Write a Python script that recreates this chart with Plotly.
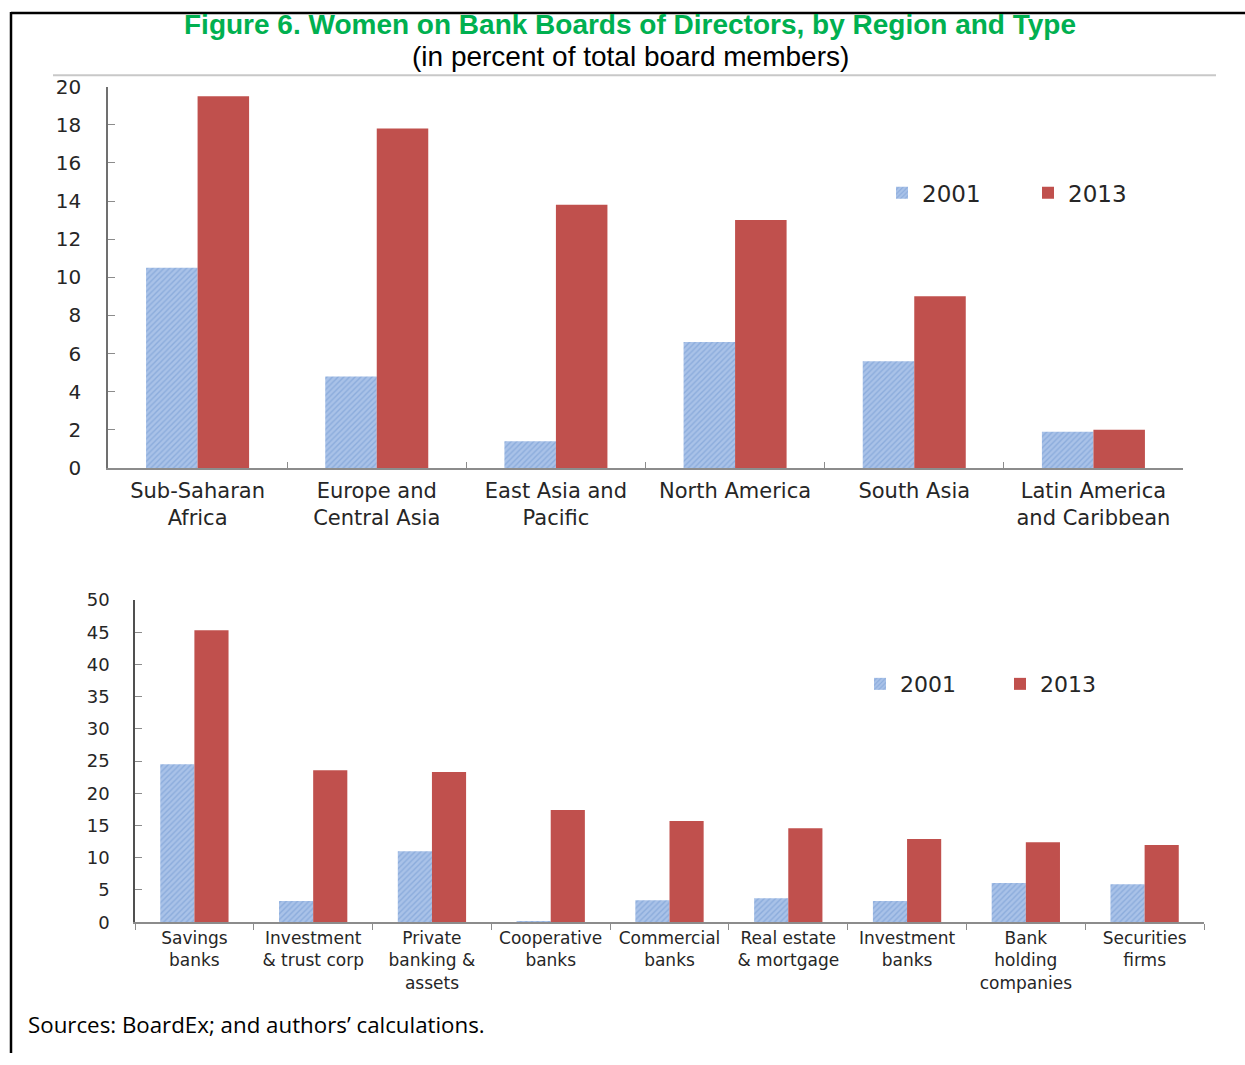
import plotly.graph_objects as go

# ---- data ----
regions = ["Sub-Saharan<br>Africa", "Europe and<br>Central Asia", "East Asia and<br>Pacific",
           "North America", "South Asia", "Latin America<br>and Caribbean"]
region_2001 = [10.5, 4.8, 1.4, 6.6, 5.6, 1.9]
region_2013 = [19.5, 17.8, 13.8, 13.0, 9.0, 2.0]

types = ["Savings<br>banks", "Investment<br>& trust corp", "Private<br>banking &<br>assets",
         "Cooperative<br>banks", "Commercial<br>banks", "Real estate<br>& mortgage",
         "Investment<br>banks", "Bank<br>holding<br>companies", "Securities<br>firms"]
type_2001 = [24.5, 3.3, 11.0, 0.1, 3.4, 3.7, 3.3, 6.1, 5.9]
type_2013 = [45.3, 23.6, 23.3, 17.4, 15.7, 14.6, 12.9, 12.4, 12.0]

top_ticks = [0, 2, 4, 6, 8, 10, 12, 14, 16, 18, 20]
bottom_ticks = [0, 5, 10, 15, 20, 25, 30, 35, 40, 45, 50]

W, H = 1245, 1065
BLUE = "#A9C2E8"
BLUE_FG = "#6E95D0"
RED = "#C0504D"
FONT = "DejaVu Sans"
TXT = "#262626"

def px_x(p):
    return p / W

def px_y(p):
    # target picture row -> paper fraction (compensates the capture offset)
    fy = (p - 12.4) / 0.9768
    fy = max(fy, 1)
    return 1 - fy / H

fig = go.Figure()

pattern = dict(shape="/", fgcolor=BLUE_FG, bgcolor=BLUE, size=4, solidity=0.35)

fig.add_trace(go.Bar(x=regions, y=region_2001, name="2001", marker=dict(color=BLUE, pattern=pattern, line_width=0),
                     xaxis="x", yaxis="y", legend="legend"))
fig.add_trace(go.Bar(x=regions, y=region_2013, name="2013", marker=dict(color=RED, line_width=0),
                     xaxis="x", yaxis="y", legend="legend"))
fig.add_trace(go.Bar(x=types, y=type_2001, name="2001", marker=dict(color=BLUE, pattern=pattern, line_width=0),
                     xaxis="x2", yaxis="y2", legend="legend2"))
fig.add_trace(go.Bar(x=types, y=type_2013, name="2013", marker=dict(color=RED, line_width=0),
                     xaxis="x2", yaxis="y2", legend="legend2"))

axis_line = "#8C8C8C"
fig.update_layout(
    width=W, height=H,
    margin=dict(l=0, r=0, t=0, b=0),
    paper_bgcolor="white", plot_bgcolor="white",
    barmode="group", bargap=0.425, bargroupgap=0,
    font=dict(family=FONT, color=TXT),
    xaxis=dict(domain=[px_x(108), px_x(1183)], anchor="y", type="category",
               showline=True, linecolor=axis_line, linewidth=1.5,
               ticks="inside", tickson="boundaries", ticklen=6, tickcolor=axis_line,
               tickfont=dict(size=21, family=FONT, color=TXT), ticklabelstandoff=3,
               showgrid=False, fixedrange=True),
    yaxis=dict(domain=[px_y(468), px_y(87)], anchor="x", range=[0, 20],
               tickvals=top_ticks, ticktext=[str(v) for v in top_ticks],
               showline=True, linecolor="#707070", linewidth=1.5,
               ticks="inside", ticklen=7, tickcolor=axis_line,
               tickfont=dict(size=20, family=FONT, color=TXT), ticklabelstandoff=21,
               showgrid=False, zeroline=False),
    xaxis2=dict(domain=[px_x(135), px_x(1204)], anchor="y2", type="category",
                showline=True, linecolor=axis_line, linewidth=1.5,
                ticks="outside", tickson="boundaries", ticklen=6, tickcolor=axis_line,
                tickfont=dict(size=17, family=FONT, color=TXT), ticklabelstandoff=0,
                showgrid=False),
    yaxis2=dict(domain=[px_y(922), px_y(600)], anchor="x2", range=[0, 50],
                tickvals=bottom_ticks, ticktext=[str(v) for v in bottom_ticks],
                showline=True, linecolor="#505050", linewidth=1.5,
                ticks="inside", ticklen=7, tickcolor=axis_line,
                tickfont=dict(size=18, family=FONT, color=TXT), ticklabelstandoff=20,
                showgrid=False, zeroline=False),
    legend=dict(orientation="h", x=px_x(882), y=px_y(193), xanchor="left", yanchor="middle",
                font=dict(size=23, family=FONT, color=TXT),
                entrywidth=101, entrywidthmode="pixels", bgcolor="rgba(0,0,0,0)"),
    legend2=dict(orientation="h", x=px_x(860), y=px_y(684), xanchor="left", yanchor="middle",
                 font=dict(size=22, family=FONT, color=TXT),
                 entrywidth=95, entrywidthmode="pixels", bgcolor="rgba(0,0,0,0)"),
    showlegend=True,
)

fig.add_annotation(x=px_x(630), y=px_y(25), xref="paper", yref="paper", showarrow=False,
                   text="<b>Figure 6. Women on Bank Boards of Directors, by Region and Type</b>",
                   font=dict(family="Liberation Sans, Arial", size=28, color="#00B050"),
                   xanchor="center", yanchor="middle")
fig.add_annotation(x=px_x(631), y=px_y(57), xref="paper", yref="paper", showarrow=False,
                   text="(in percent of total board members)",
                   font=dict(family="Liberation Sans, Arial", size=28, color="#000000"),
                   xanchor="center", yanchor="middle")
fig.add_annotation(x=px_x(26), y=px_y(1024), xref="paper", yref="paper", showarrow=False,
                   text="Sources: BoardEx; and authors\u2019 calculations.",
                   font=dict(family="Open Sans", size=22.3, color="#000000"),
                   xanchor="left", yanchor="middle")

# frame lines and separator
fig.add_shape(type="line", xref="paper", yref="paper", x0=px_x(11), x1=px_x(11), y0=0, y1=1,
              line=dict(color="black", width=2.5))
fig.add_shape(type="line", xref="paper", yref="paper", x0=px_x(11), x1=1, y0=px_y(1), y1=px_y(1),
              line=dict(color="black", width=2.5))
fig.add_shape(type="line", xref="paper", yref="paper", x0=px_x(53), x1=px_x(1216), y0=px_y(75.5), y1=px_y(75.5),
              line=dict(color="#C8C8C8", width=2))

post = ("document.documentElement.style.margin='0';document.body.style.margin='0';"
        "document.body.style.overflow='hidden';document.documentElement.style.overflow='hidden';"
        "var d=document.querySelector('.plotly-graph-div');"
        "d.style.position='fixed';d.style.top='0px';d.style.left='0px';")
fig.write_html("out.html", config={"displayModeBar": False}, post_script=post)
